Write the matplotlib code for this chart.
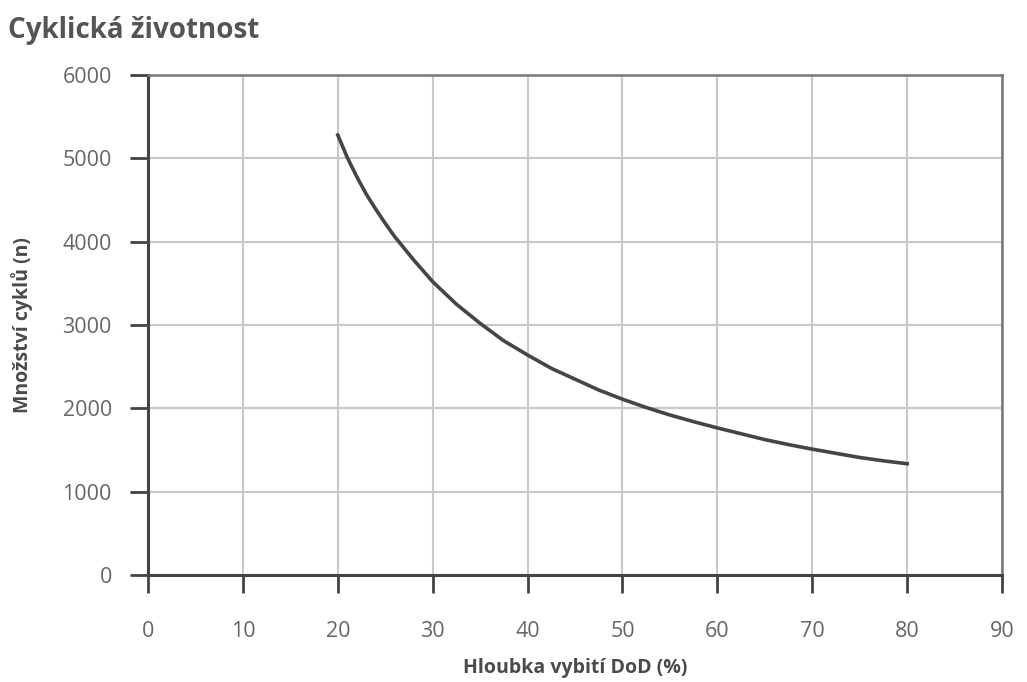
import matplotlib
matplotlib.use("Agg")
import matplotlib.pyplot as plt

# values
dod = [20, 21, 22, 23, 24, 25, 26, 27, 28, 29, 30, 32.5, 35, 37.5, 40, 42.5, 45, 47.5, 50,
       52.5, 55, 57.5, 60, 62.5, 65, 67.5, 70, 72.5, 75, 77.5, 80]
cycles = [5280, 5010, 4780, 4570, 4390, 4220, 4060, 3920, 3780, 3650, 3520, 3250, 3020, 2810,
          2640, 2480, 2350, 2220, 2110, 2010, 1920, 1840, 1765, 1695, 1625, 1565, 1510, 1460,
          1410, 1370, 1335]
x_ticks = [0, 10, 20, 30, 40, 50, 60, 70, 80, 90]
y_ticks = [0, 1000, 2000, 3000, 4000, 5000, 6000]

plt.rcParams['font.family'] = ['Open Sans', 'DejaVu Sans']

fig = plt.figure(figsize=(10.27, 6.82), dpi=100)
ax = fig.add_axes([0.1441, 0.1569, 0.8316, 0.7331])

ax.plot(dod, cycles, color='#454545', linewidth=2.6, solid_joinstyle='round')

ax.set_xlim(0, 90)
ax.set_ylim(0, 6000)
ax.set_xticks(x_ticks)
ax.set_yticks(y_ticks)
ax.grid(True, color='#c8c8c8', linewidth=1.5)
ax.set_axisbelow(True)

for side in ['left', 'bottom']:
    ax.spines[side].set_color('#444444')
    ax.spines[side].set_linewidth(2.2)
for side in ['top', 'right']:
    ax.spines[side].set_color('#777777')
    ax.spines[side].set_linewidth(1.8)

ax.tick_params(axis='x', direction='out', length=13, width=2, color='#444444',
               labelsize=15.5, labelcolor='#666666', pad=20)
ax.tick_params(axis='y', direction='out', length=13, width=2, color='#444444',
               labelsize=15.5, labelcolor='#666666', pad=13)

ax.set_xlabel('Hloubka vybití DoD (%)', fontsize=14, fontweight='bold', color='#4a4a4a')
ax.set_ylabel('Množství cyklů (n)', fontsize=14, fontweight='bold', color='#4a4a4a')
ax.xaxis.set_label_coords(0.5, -0.186)
ax.xaxis.label.set_va('center')
ax.yaxis.set_label_coords(-0.1475, 0.5)
ax.yaxis.label.set_va('center')

fig.text(0.008, 0.956, 'Cyklická životnost', fontsize=20, fontweight='bold',
         color='#555555', ha='left', va='center')

fig.savefig('out.png', dpi=100)
plt.close(fig)
